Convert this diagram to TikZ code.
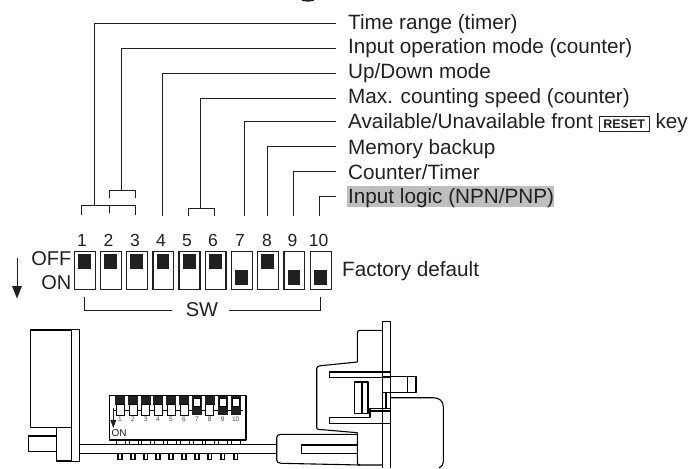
\documentclass[tikz,border=0pt]{standalone}
\usepackage{fontspec}
\setmainfont{Liberation Sans}
\definecolor{ink}{HTML}{231F20}
\definecolor{hl}{HTML}{BEBEBE}
\tikzset{
  x=1pt,y=-1pt,
  leader/.style={draw=ink,line width=1pt},
  label/.style={anchor=base west,inner sep=0pt,font=\fontsize{20.7}{22}\selectfont,text=ink},
  num/.style={anchor=base,inner sep=0pt,font=\fontsize{17.5}{19}\selectfont,text=ink},
  big/.style={inner sep=0pt,font=\fontsize{20}{22}\selectfont,text=ink},
  swbox/.style={draw=ink,line width=1.3pt,fill=white,anchor=north west,inner sep=0pt},
  knob/.style={fill=ink},
  part/.style={draw=black,line width=1.1pt,line join=round},
  tiny/.style={inner sep=0pt,font=\fontsize{6.6}{7}\selectfont,text=ink!80},
}
\begin{document}
\begin{tikzpicture}
\useasboundingbox (0,0) rectangle (692,468);
% remnant at the top edge
\draw[ink,line width=1.4pt] (302,0) .. controls (304,1.2) and (311,1.2) .. (314,0);
% highlight
\fill[hl] (347,186) rectangle (554,207.3);
% labels
\node[label] (t1) at (348,29.3) {Time range (timer)};
\node[label] (t2) at (348,54) {Input operation mode (counter)};
\node[label] (t3) at (348,79) {Up/Down mode};
\node[label] (t4) at (348,103.5) {Max. counting speed (counter)};
\node[label] (t5) at (348,128.3) {Available/Unavailable front \raisebox{0.3pt}{\tikz[baseline=(k.base)]\node[draw=ink,line width=0.8pt,inner xsep=4.3pt,inner ysep=3pt,font=\fontsize{12.5}{13}\selectfont\bfseries] (k) {RESET};} key};
\node[label] (t6) at (348,154) {Memory backup};
\node[label] (t7) at (348,179) {Counter/Timer};
\node[label] (t8) at (348,203.3) {Input logic (NPN/PNP)};
% numbers
\foreach \n/\x in {1/82,2/108.5,3/135,4/161,5/187,6/213,7/240,8/267,9/292.5}
  \node[num] (n\n) at (\x,246) {\n};
\node[num] (n10) at (318.5,246) {10};
% leaders
\coordinate (e1) at (336,24);\coordinate (e2) at (336,48.5);\coordinate (e3) at (336,73.5);\coordinate (e4) at (336,98.5);
\coordinate (e5) at (336,121);\coordinate (e6) at (336,146);\coordinate (e7) at (336,171);\coordinate (e8) at (336,196.5);
\draw[leader] (e1) -| (94.5,205);
\draw[leader] (e2) -| (121.7,190.5);
\draw[leader] (e3) -| (162,216);
\draw[leader] (e4) -| (200.5,208);
\draw[leader] (e5) -| (244,216);
\draw[leader] (e6) -| (267.5,216);
\draw[leader] (e7) -| (293,216);
\draw[leader] (e8) -| (319.5,216);
\draw[leader] (109,197.5) |- (135.5,190.5) -- (135.5,197.5);
\draw[leader] (81.5,215) |- (135.5,205) -- (135.5,215);
\draw[leader] (109,205) -- (109,213);
\draw[leader] (188,216) |- (214.5,208) -- (214.5,216);
% switches
\foreach \i/\l/\r/\s in {1/73.7/95/0,2/100/120.7/0,3/126/147/0,4/152.3/173/0,5/178.3/199.3/0,6/204.7/225.3/0,7/231/252/1,8/257/277.7/0,9/283.3/304/1,10/310/331/1}{
  \pgfmathsetmacro{\swd}{\r-\l}
  \node[swbox,minimum width=\swd pt,minimum height=38pt] (sw\i) at (\l,250.7) {};
  \ifnum\s=0
    \fill[knob] (\l+4.4,254) rectangle (\r-3.6,269);
  \else
    \fill[knob] (\l+4.4,270.3) rectangle (\r-3.6,285);
  \fi
}
\node[big,anchor=base east] (off) at (71.5,265) {OFF};
\node[big,anchor=base east] (on) at (71.5,289.3) {ON};
\node[label] (fd) at (342,276.7) {Factory default};
% arrow
\coordinate (a1) at (17,258);\coordinate (a2) at (17,287);
\draw[draw=ink,line width=1pt] (a1) -- (a2);
\fill[ink] (12,286) -- (22,286) -- (17,298.5) -- cycle;
% SW bracket
\node[big,anchor=base] (sw) at (202,316.7) {SW};
\coordinate (b1) at (84.5,297);\coordinate (b2) at (320,297);
\draw[draw=ink,line width=0.9pt] (b1) |- (171.7,310);
\draw[draw=ink,line width=0.9pt] (229,310) -| (b2);
% left part
\draw[part] (30.7,330) rectangle (71.7,427.3);
\draw[part] (71.7,329.3) rectangle (79.7,461.7);
\draw[part] (56.7,427.3) rectangle (71.7,461);
\draw[part] (28.3,436) rectangle (56.7,451.7);
% board
\draw[part] (79.7,444.3) -- (276.7,444.3);
\draw[part] (79.7,453.3) -- (276.7,453.3);
% dip
\foreach \x in {116,129,141.7,154,167,180,193,205.7,218.7,231.7}
  \draw[part,line width=0.8pt] (\x,440) rectangle (\x+9,444.3);
\foreach \x in {120,133,145.7,158,171,184,197,209.7,222.7,235.7}{
  \draw[black,line width=1.5pt] (\x-1.8,453.5) -- (\x-1.8,459.3) -- (\x+1.8,459.3) -- (\x+1.8,453.5);
}
\draw[part,fill=white] (109.3,395.7) rectangle (246,440);
\draw[black,line width=0.8pt] (113,410.7) -- (243,410.7);
\foreach \x in {120,133,145.7,158,171,184,209.7}{
  \fill[ink] (\x-5,396) rectangle (\x+5,405);
  \draw[black,line width=0.8pt,fill=white] (\x-4,404.7) rectangle (\x+4,415);
}
\foreach \x in {197,222.7,235.7}{
  \fill[ink] (\x-5,396) rectangle (\x+5,415);
  \draw[black,line width=0.6pt,fill=white] (\x-3.6,398.3) rectangle (\x+3.6,406.7);
}
\foreach \n/\x in {1/120,2/133,3/145.7,4/158,5/171,6/184,7/197,8/209.7,9/222.7,10/235.7}
  \node[tiny] (d\n) at (\x,419.6) {\n};
\draw[ink,line width=0.6pt] (113.3,408) -- (113.3,420);
\fill[ink] (110.3,420) -- (116.3,420) -- (113.3,428) -- cycle;
\node[anchor=west,inner sep=0pt,font=\fontsize{10}{10}\selectfont,text=ink] (don) at (111.5,433.3) {ON};
% right part
\draw[part] (382.7,468) -- (382.7,321.7) -- (390.3,321.7) -- (390.3,468);
\draw[part] (382.7,330.3) -- (360,330.3) .. controls (358,330.3) and (357.3,331.3) .. (357.3,333.3) -- (357.3,362) -- (320,365.8) .. controls (318,366) and (316.7,367) .. (316.7,368.3) -- (316.7,427.7) .. controls (316.7,428.8) and (317.5,429.2) .. (319,429.4) -- (357.3,432.7) -- (357.3,462.7) .. controls (357.3,464.2) and (358.5,465) .. (360,465) -- (382.7,465);
\draw[part] (329.3,372) rectangle (390.3,377.3);
\draw[part] (382.7,376.7) rectangle (416,392.3);
\draw[part] (407.7,376.7) -- (407.7,392.3);
\draw[part] (354.7,382) rectangle (368,413.3);
\draw[part] (362,382) -- (362,413.3);
\draw[part] (386,392.3) -- (386,408.3);
\draw[part] (390.3,423.3) -- (329.3,423.3) -- (329.3,417.7) -- (370,417.7) -- (370,408.3) -- (390.3,408.3);
\draw[part] (370,411) -- (390.3,411);
\draw[part] (390.3,397.7) -- (433.3,397.7) .. controls (439,397.7) and (443.3,401) .. (443.3,406.7) -- (443.3,461.7) .. controls (443.3,464.5) and (442,466.5) .. (439,468);
\draw[part] (357.3,434.3) -- (281,434.3) .. controls (278.2,434.3) and (276.7,435.5) .. (276.7,437.5) -- (276.7,460) .. controls (276.7,462) and (278.2,463.2) .. (281,463.3) -- (360,465);
\draw[part] (357.3,445) -- (301.7,445) -- (301.7,453.3) -- (357.3,453.3);
\end{tikzpicture}
\end{document}
